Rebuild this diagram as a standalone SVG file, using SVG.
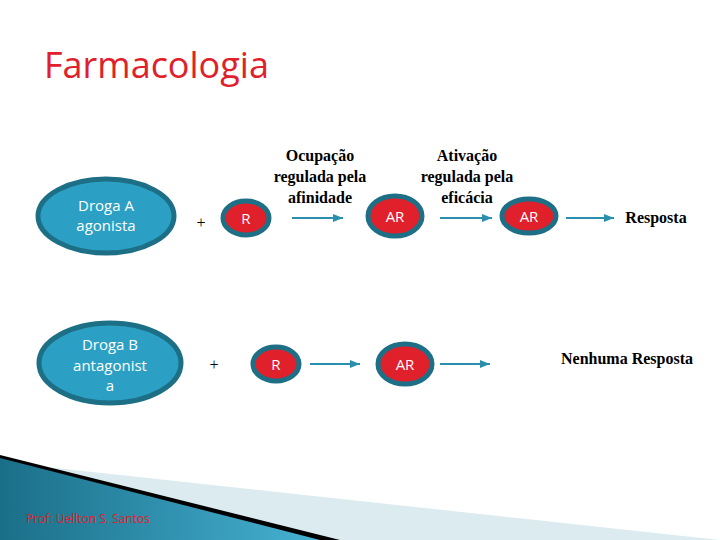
<svg xmlns="http://www.w3.org/2000/svg" width="720" height="540" viewBox="0 0 720 540">
<defs>
<style>
.drug{fill:#2c9fc4;stroke:#1d6f86;stroke-width:5}
.rec{fill:#e0202a;stroke:#1d6f86;stroke-width:5}
.wt{font-family:"Open Sans","Liberation Sans",sans-serif;font-size:15px;fill:#fff;text-anchor:middle}
.lb{font-family:"Liberation Serif",serif;font-size:16px;font-weight:bold;fill:#000;text-anchor:middle}
.plus{font-family:"Liberation Serif",serif;font-size:16px;fill:#000;text-anchor:middle}
.ar{stroke:#2a8fad;stroke-width:2;marker-end:url(#ah)}
</style>
<marker id="ah" markerWidth="6" markerHeight="6" refX="5" refY="3" orient="auto"><path d="M0,1 L5,3 L0,5 Z" fill="#2a8fad"/></marker>
<linearGradient id="wg" x1="0" y1="0" x2="1" y2="0"><stop offset="0" stop-color="#1a6f88"/><stop offset="1" stop-color="#46b1d2"/></linearGradient>
</defs>
<rect width="720" height="540" fill="#fff"/>
<polygon points="0,462 720,540 0,540" fill="#dcebf0"/>
<polygon points="0,455 340,540 0,540" fill="#000"/>
<polygon points="0,458 320,540 0,540" fill="url(#wg)"/>
<text x="44" y="78" font-family="Open Sans,Liberation Sans,sans-serif" font-size="36" fill="#e0202a">Farmacologia</text>
<text x="26" y="523" font-family="Open Sans,Liberation Sans,sans-serif" font-size="12" fill="#e0202a">Prof: Uellton S. Santos</text>
<g id="drogaA"><ellipse class="drug" cx="106" cy="216" rx="68" ry="37"/><text class="wt" x="106" y="211">Droga A</text><text class="wt" x="106" y="231">agonista</text></g>
<g id="drogaB"><ellipse class="drug" cx="110" cy="363" rx="71" ry="40"/><text class="wt" x="110" y="350">Droga B</text><text class="wt" x="110" y="371">antagonist</text><text class="wt" x="110" y="391">a</text></g>
<text class="plus" x="201" y="228">+</text>
<text class="plus" x="214" y="370">+</text>
<g id="R1"><ellipse class="rec" cx="246" cy="218" rx="23" ry="17"/><text class="wt" x="246" y="224">R</text></g>
<g id="R2"><ellipse class="rec" cx="276" cy="364" rx="23" ry="17"/><text class="wt" x="276" y="370">R</text></g>
<g id="AR1"><ellipse class="rec" cx="395" cy="216" rx="27" ry="20"/><text class="wt" x="395" y="222">AR</text></g>
<g id="AR2"><ellipse class="rec" cx="405" cy="364" rx="27" ry="20"/><text class="wt" x="405" y="370">AR</text></g>
<g id="AR3"><ellipse class="rec" cx="529" cy="216" rx="27" ry="17"/><text class="wt" x="529" y="222">AR</text></g>
<g id="lbl1"><text class="lb" x="320" y="161">Ocupação</text><text class="lb" x="320" y="182">regulada pela</text><text class="lb" x="320" y="203">afinidade</text></g>
<g id="lbl2"><text class="lb" x="467" y="161">Ativação</text><text class="lb" x="467" y="182">regulada pela</text><text class="lb" x="467" y="203">eficácia</text></g>
<text class="lb" x="656" y="223">Resposta</text>
<text class="lb" x="627" y="364">Nenhuma Resposta</text>
<g id="connectors">
<line class="ar" x1="292" y1="218" x2="343" y2="218"/>
<line class="ar" x1="440" y1="218" x2="492" y2="218"/>
<line class="ar" x1="566" y1="218" x2="614" y2="218"/>
<line class="ar" x1="310" y1="364" x2="360" y2="364"/>
<line class="ar" x1="440" y1="364" x2="490" y2="364"/>
</g>
</svg>
